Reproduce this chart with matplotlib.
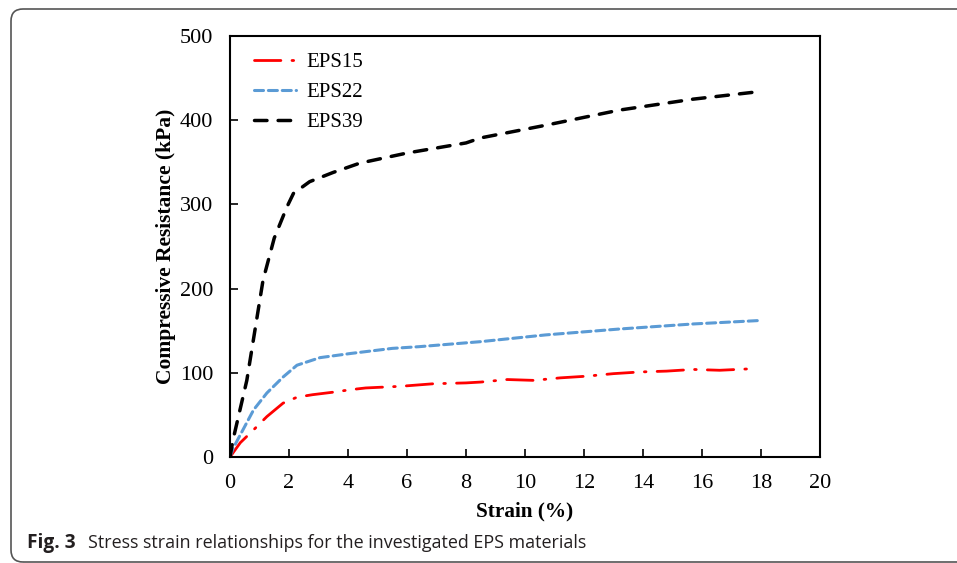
import matplotlib
matplotlib.use("Agg")
import matplotlib.pyplot as plt
from matplotlib.patches import FancyBboxPatch
from matplotlib.transforms import IdentityTransform

plt.rcParams['lines.scale_dashes'] = False

# Data
eps15_strain = [0, 0.35, 0.85, 1.25, 1.8, 2.27, 2.8, 3.5, 4.1, 4.6, 5.8, 6.9, 8.0, 8.5, 9.4, 10.3, 11.2, 12.1, 13.0, 13.9, 14.8, 15.7, 16.6, 17.8]
eps15_stress = [0, 17, 34, 48, 64, 71, 74, 77, 80, 82, 84, 87, 88, 89, 92, 91, 94, 96, 99, 101, 102, 104, 103, 105]

eps22_strain = [0, 0.1, 0.8, 1.25, 1.8, 2.27, 3.05, 4.1, 5.5, 6.4, 8.5, 10.7, 13.2, 15.7, 17.9]
eps22_stress = [0, 10, 56, 76, 95, 109, 118, 123, 129, 131, 137, 145, 152, 158, 162]

eps39_strain = [0, 0.1, 0.57, 1.12, 1.5, 1.93, 2.15, 2.7, 3.5, 4.4, 6.0, 8.0, 8.5, 10.7, 13.2, 15.7, 17.7]
eps39_stress = [0, 20, 91, 210, 260, 297, 313, 327, 338, 349, 361, 373, 379, 394, 412, 425, 433]

x_ticks = [0, 2, 4, 6, 8, 10, 12, 14, 16, 18, 20]
y_ticks = [0, 100, 200, 300, 400, 500]

W, H = 957, 563
fig = plt.figure(figsize=(W / 100, H / 100), dpi=100)
ax = fig.add_axes([230 / W, 1 - 457 / H, 590 / W, 421 / H])

serif = ['Liberation Serif', 'DejaVu Serif']

ax.plot(eps15_strain, eps15_stress, color='#ff0000', lw=2.0, dashes=(19, 8, 1.2, 8),
        label='EPS15', solid_capstyle='round', dash_capstyle='round')
ax.plot(eps22_strain, eps22_stress, color='#5b9bd5', lw=2.2, dashes=(6.5, 3.5),
        label='EPS22', dash_capstyle='round')
ax.plot(eps39_strain, eps39_stress, color='#000000', lw=2.5, dashes=(9, 8),
        label='EPS39', dash_capstyle='round')

ax.set_xlim(0, 20)
ax.set_ylim(0, 500)
ax.set_xticks(x_ticks)
ax.set_yticks(y_ticks)
ax.set_xticklabels([str(v) for v in x_ticks], fontfamily=serif, fontsize=16)
ax.set_yticklabels([str(v) for v in y_ticks], fontfamily=serif, fontsize=16)
ax.tick_params(axis='x', direction='in', length=6, width=1.2, pad=12)
ax.tick_params(axis='y', direction='in', length=6, width=1.2, pad=12)
for s in ax.spines.values():
    s.set_linewidth(1.5)

ax.set_xlabel('Strain (%)', fontfamily=serif, fontsize=15.3, fontweight='bold', labelpad=6.5)
ax.set_ylabel('Compressive Resistance (kPa)', fontfamily=serif, fontsize=15.5, fontweight='bold', labelpad=2.5)

leg = ax.legend(loc='upper left', frameon=False, prop={'family': serif, 'size': 15},
                handlelength=2.0, handletextpad=0.5, labelspacing=0.5,
                borderaxespad=0.4, bbox_to_anchor=(0.013, 1.0))

# figure frame
frame = FancyBboxPatch((11, 1), W + 20, H - 10, boxstyle="round,pad=0,rounding_size=12",
                       transform=IdentityTransform(), fill=False, edgecolor='#555555',
                       linewidth=1.2, clip_on=False)
fig.patches.append(frame)

fig.text(27 / W, 1 - 543 / H, 'Fig. 3', fontfamily=['Open Sans', 'DejaVu Sans'], fontweight='bold',
         fontsize=13.8, color='#231f20', va='center', ha='left')
fig.text(88 / W, 1 - 543 / H, 'Stress strain relationships for the investigated EPS materials',
         fontfamily=['Open Sans', 'DejaVu Sans'], fontsize=12.85, color='#231f20', va='center', ha='left')

fig.savefig('out.png', dpi=100)
